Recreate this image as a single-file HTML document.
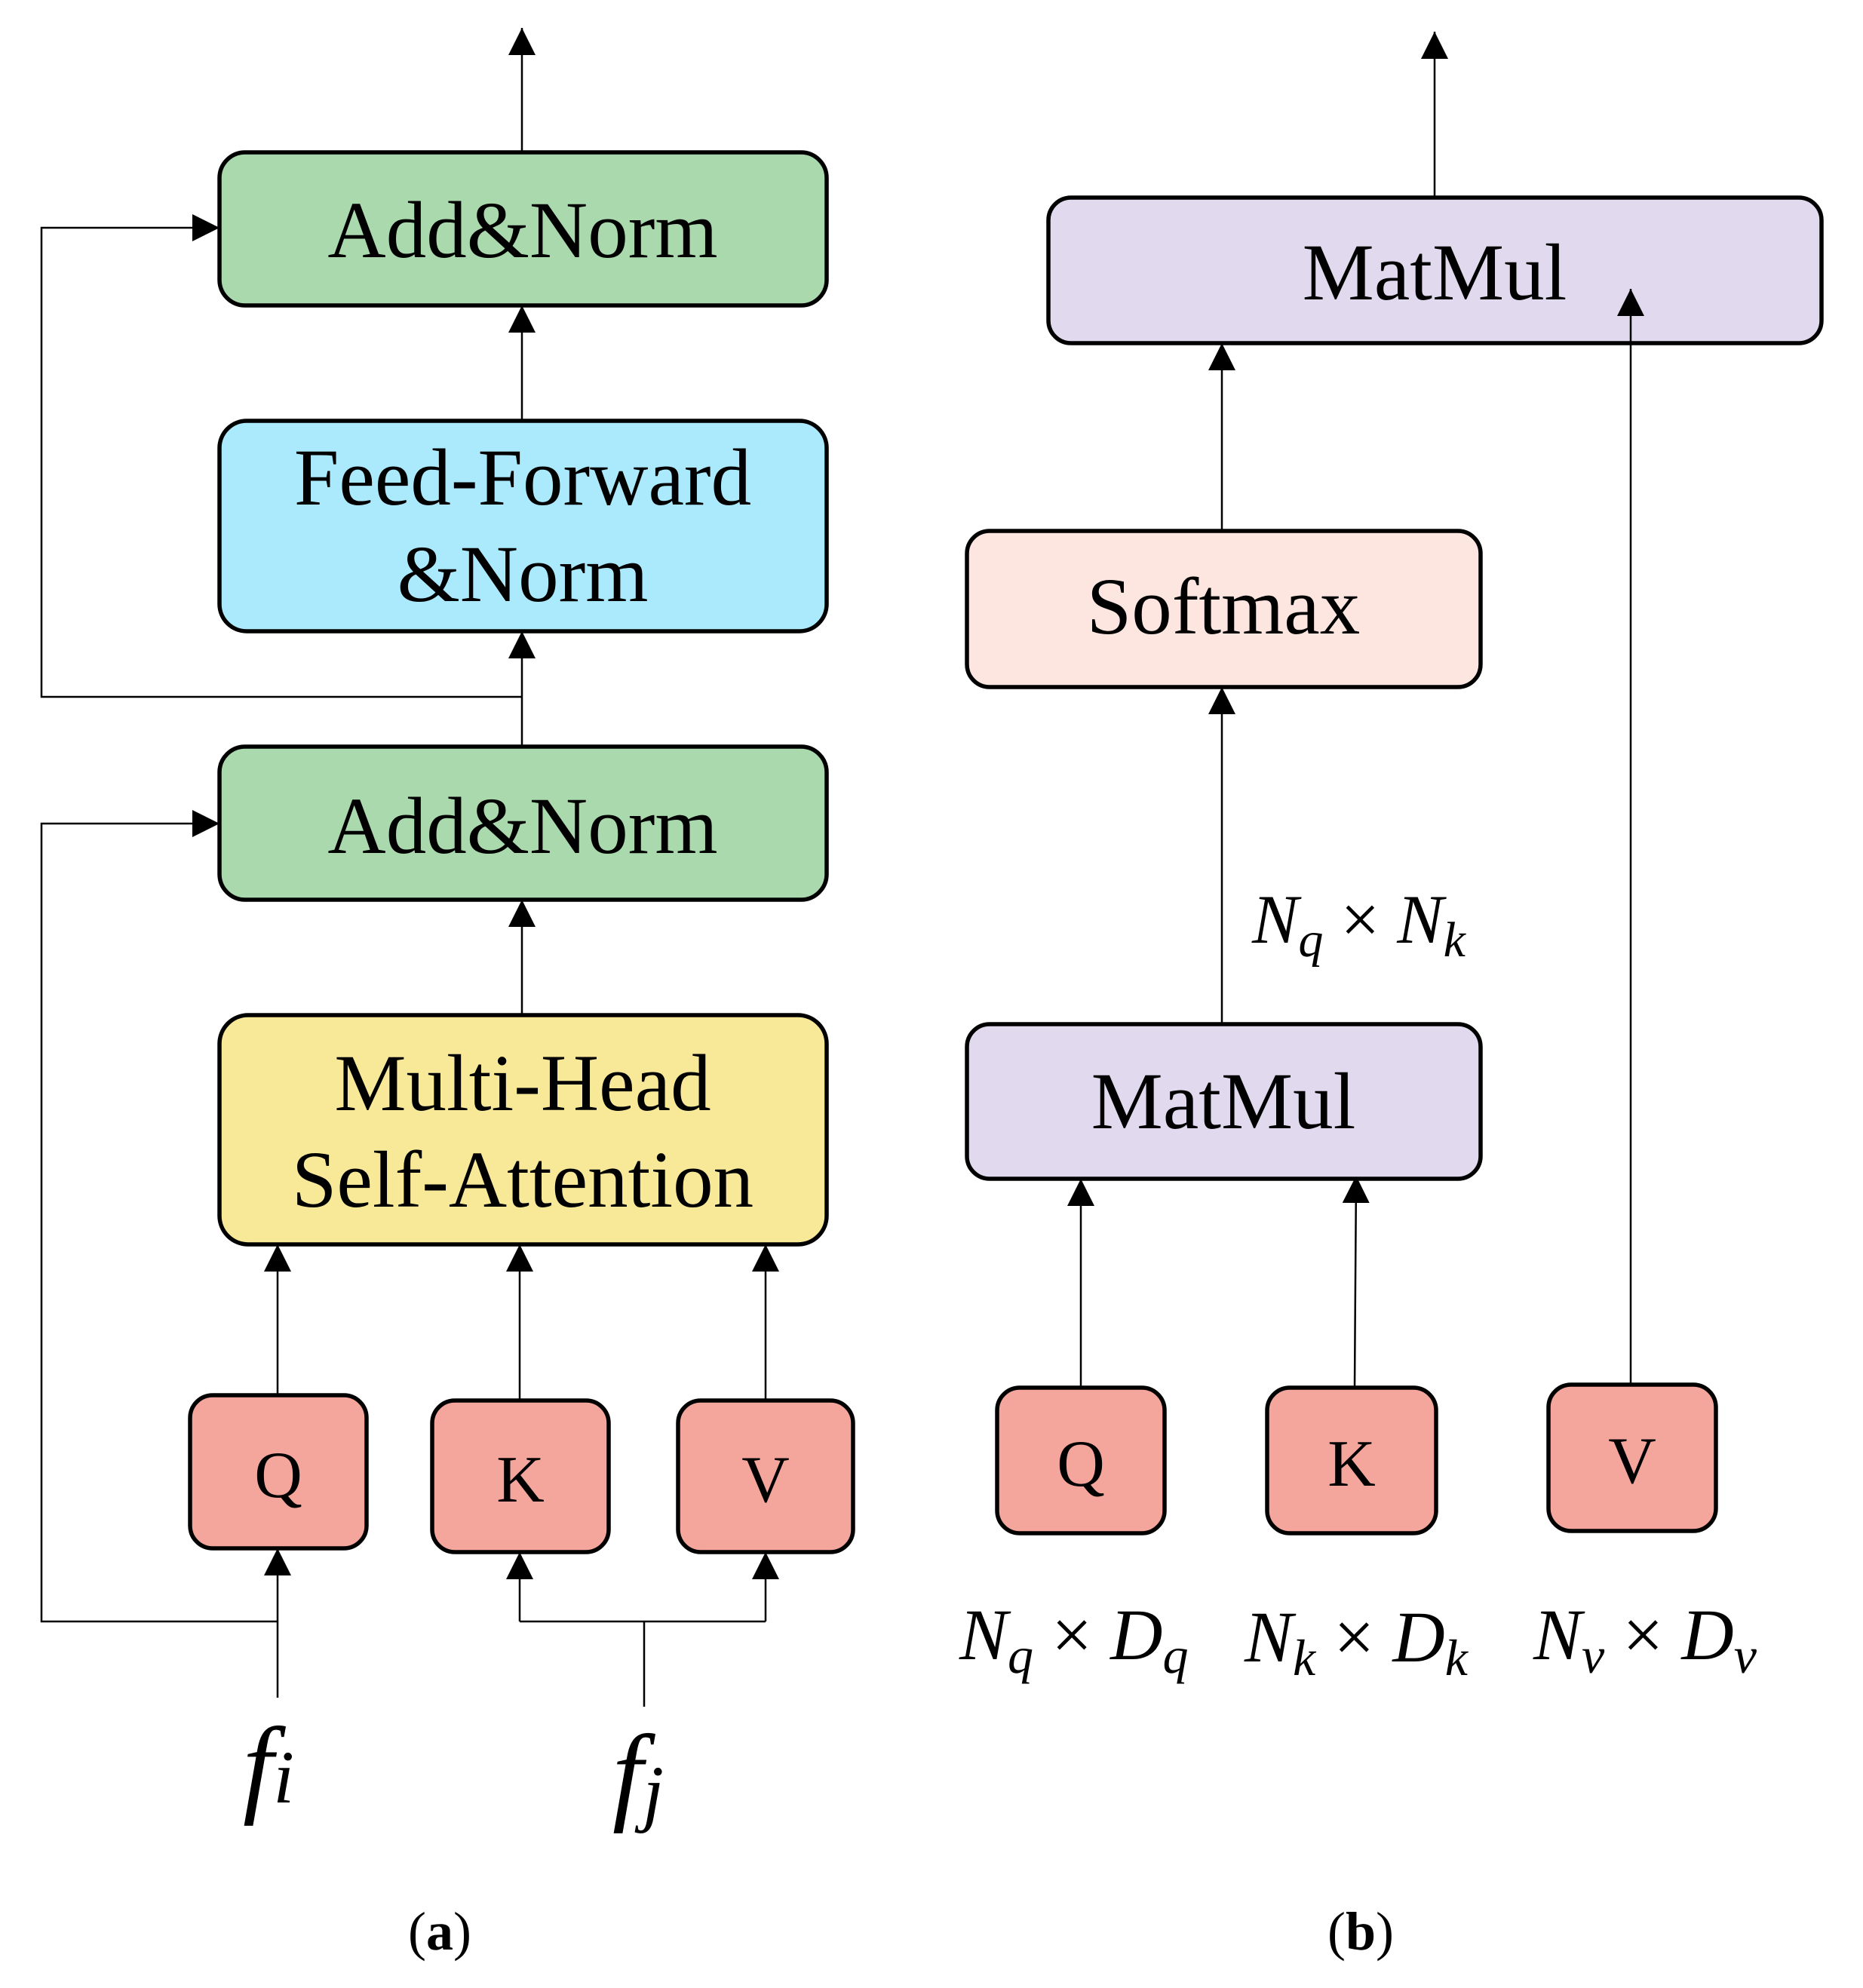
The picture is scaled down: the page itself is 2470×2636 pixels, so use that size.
<!DOCTYPE html>
<html><head><meta charset="utf-8"><style>
html,body{margin:0;padding:0;background:#fff;}
svg{display:block;}
text{font-family:"Liberation Serif",serif;fill:#000;}
.m{font-style:italic;}
</style></head><body>
<svg width="2470" height="2636" viewBox="0 0 2470 2636" xmlns="http://www.w3.org/2000/svg">
<defs>
<marker id="a" markerWidth="36" markerHeight="36" refX="36" refY="18" orient="auto" markerUnits="userSpaceOnUse">
<path d="M0,0 L36,18 L0,36 Z" fill="#000"/>
</marker>
</defs>
<g stroke="#000" stroke-width="2.5" fill="none">
<line x1="692" y1="202" x2="692" y2="37" marker-end="url(#a)"/>
<line x1="692" y1="558" x2="692" y2="405" marker-end="url(#a)"/>
<line x1="692" y1="990" x2="692" y2="837" marker-end="url(#a)"/>
<line x1="692" y1="1346" x2="692" y2="1193" marker-end="url(#a)"/>
<polyline points="692,924 55,924 55,302 291,302" marker-end="url(#a)"/>
<polyline points="368,2150 55,2150 55,1092 291,1092" marker-end="url(#a)"/>
<line x1="368" y1="1850" x2="368" y2="1650" marker-end="url(#a)"/>
<line x1="689" y1="1857" x2="689" y2="1650" marker-end="url(#a)"/>
<line x1="1015" y1="1857" x2="1015" y2="1650" marker-end="url(#a)"/>
<line x1="368" y1="2251" x2="368" y2="2053" marker-end="url(#a)"/>
<polyline points="689,2150 1015,2150"/>
<line x1="854" y1="2263" x2="854" y2="2150"/>
<line x1="689" y1="2150" x2="689" y2="2058" marker-end="url(#a)"/>
<line x1="1015" y1="2150" x2="1015" y2="2058" marker-end="url(#a)"/>
<line x1="1902" y1="262" x2="1902" y2="42" marker-end="url(#a)"/>
<line x1="1620" y1="704" x2="1620" y2="455" marker-end="url(#a)"/>
<line x1="1620" y1="1358" x2="1620" y2="911" marker-end="url(#a)"/>
<line x1="1433" y1="1840" x2="1433" y2="1563" marker-end="url(#a)"/>
<line x1="1796" y1="1840" x2="1798" y2="1559" marker-end="url(#a)"/>
</g>
<g stroke="#000" stroke-width="5.5">
<rect x="291" y="202" width="805" height="203" rx="34" fill="#aad9ae"/>
<rect x="291" y="558" width="805" height="279" rx="36" fill="#abe9fc"/>
<rect x="291" y="990" width="805" height="203" rx="34" fill="#aad9ae"/>
<rect x="291" y="1346" width="805" height="304" rx="38" fill="#f8e999"/>
<rect x="252" y="1850" width="234" height="203" rx="30" fill="#f4a69d"/>
<rect x="573" y="1857" width="234" height="201" rx="30" fill="#f4a69d"/>
<rect x="899" y="1857" width="232" height="201" rx="30" fill="#f4a69d"/>
<rect x="1390" y="262" width="1025" height="193" rx="30" fill="#e1daef"/>
<rect x="1282" y="704" width="681" height="207" rx="30" fill="#fde5e0"/>
<rect x="1282" y="1358" width="681" height="205" rx="30" fill="#e1daef"/>
<rect x="1322" y="1840" width="222" height="193" rx="30" fill="#f4a69d"/>
<rect x="1680" y="1840" width="224" height="193" rx="30" fill="#f4a69d"/>
<rect x="2053" y="1836" width="222" height="194" rx="30" fill="#f4a69d"/>
</g>
<line x1="2162" y1="1836" x2="2162" y2="383" stroke="#000" stroke-width="2.5" marker-end="url(#a)"/>
<g font-size="107" text-anchor="middle">
<text x="693" y="341">Add&amp;Norm</text>
<text x="693" y="669">Feed-Forward</text>
<text x="693" y="797">&amp;Norm</text>
<text x="693" y="1131">Add&amp;Norm</text>
<text x="693" y="1472">Multi-Head</text>
<text x="693" y="1600">Self-Attention</text>
<text x="1902" y="397">MatMul</text>
<text x="1622" y="840">Softmax</text>
<text x="1622" y="1496">MatMul</text>
</g>
<g font-size="88" text-anchor="middle">
<text x="369" y="1985">Q</text>
<text x="690" y="1991">K</text>
<text x="1015" y="1991">V</text>
<text x="1433" y="1970">Q</text>
<text x="1792" y="1970">K</text>
<text x="2164" y="1966">V</text>
</g>
<g>
<text x="322" y="2390" font-size="145" class="m">f<tspan font-size="100">i</tspan></text>
<text x="812" y="2400" font-size="145" class="m">f<tspan font-size="100" dy="10">j</tspan></text>
<text x="1660" y="1250" font-size="92" class="m">N<tspan font-size="66" dy="18">q</tspan><tspan font-style="normal" font-size="92" dy="-18"> × </tspan>N<tspan font-size="66" dy="18">k</tspan></text>
<text x="1272" y="2200" font-size="96" class="m">N<tspan font-size="68" dy="18">q</tspan><tspan font-style="normal" font-size="96" dy="-18"> × </tspan>D<tspan font-size="68" dy="18">q</tspan></text>
<text x="1650" y="2203" font-size="96" class="m">N<tspan font-size="68" dy="18">k</tspan><tspan font-style="normal" font-size="96" dy="-18"> × </tspan>D<tspan font-size="68" dy="18">k</tspan></text>
<text x="2033" y="2200" font-size="96" class="m">N<tspan font-size="68" dy="18">v</tspan><tspan font-style="normal" font-size="96" dy="-18"> × </tspan>D<tspan font-size="68" dy="18">v</tspan></text>
</g>
<text x="583" y="2585" font-size="72" text-anchor="middle">(<tspan font-weight="bold">a</tspan>)</text>
<text x="1804" y="2585" font-size="72" text-anchor="middle">(<tspan font-weight="bold">b</tspan>)</text>
</svg>
</body></html>
